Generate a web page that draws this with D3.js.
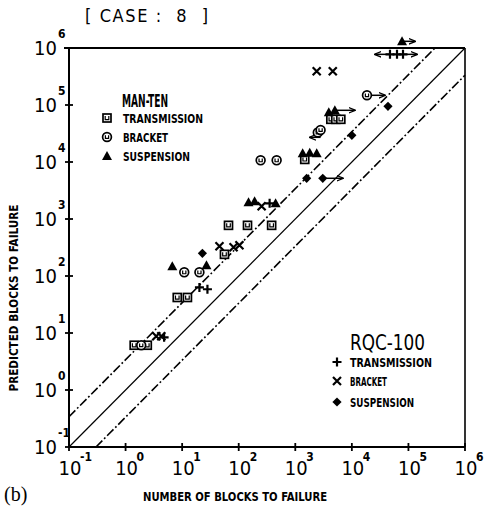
<!DOCTYPE html>
<html><head><meta charset="utf-8">
<script src="https://cdn.jsdelivr.net/npm/d3@7"></script>
<style>
html,body{margin:0;padding:0;background:#fff;}
svg{display:block;}
text{font-family:"Liberation Sans Narrow","DejaVu Sans Condensed","Arial Narrow",sans-serif;fill:#000;}
</style></head><body>
<svg id="c" width="492" height="515"></svg>
<script>
// ---- data ----
const tickValues = [0.1, 1, 10, 100, 1000, 10000, 100000, 1000000];
const tickExponents = ["-1", "0", "1", "2", "3", "4", "5", "6"];
const domain = [0.1, 1000000];
const bandFactors = [1, 3.4, 1 / 3];           // y = k * x  (solid, upper, lower)
const seriesNames = ["TRANSMISSION", "BRACKET", "SUSPENSION"];
const groupNames = ["MAN-TEN", "RQC-100"];
const caseLabel = "[ CASE :  8  ]";
const xTitle = "NUMBER OF BLOCKS TO FAILURE";
const yTitle = "PREDICTED BLOCKS TO FAILURE";

// [number of blocks, predicted blocks]
const mtTransmission = [[1.42,6.1],[2.42,6.1],[8.2,42],[12.4,42],[56,240],[66,774],[143,774],[382,774],[1470,11100],[4250,56100],[5200,56100],[6380,56100]];
const mtBracket = [[1.89,6.1],[10.9,116],[20.2,116],[244,10700],[468,10700],[2500,33000],[2800,36500],[18500,148000]];
const mtSuspension = [[6.7,148],[26.9,154],[149,1960],[191,2040],[449,1880],[1350,14200],[1800,14600],[2390,14200],[3910,74500],[5000,80700],[77100,1310000]];
const rqcTransmission = [[4.8,8.4],[20.2,63],[28,58.5],[352,1880],[47200,774000],[62800,774000],[80200,774000]];
const rqcBracket = [[3.49,8.75],[4.28,8.75],[45.7,332],[81,319],[103,346],[254,1670],[2390,390000],[4600,390000]];
const rqcSuspension = [[22.8,250],[1590,5180],[3060,5180],[10000,29400],[43500,94900]];
// run-out arrows: [from x, to x, y]
const arrows = [[18500,38500,148000],[2800,1800,27100],[5000,11300,80700],[77100,131000,1310000],[3060,6920,5180],[47200,25600,774000],[80200,142000,774000]];

// ---- drawing ----
const svg = d3.select("#c");
const x = d3.scaleLog().domain(domain).range([69, 465]);
const y = d3.scaleLog().domain(domain).range([447, 48]);

svg.append("defs").append("marker").attr("id","ah").attr("viewBox","0 0 10 10")
  .attr("refX",9).attr("refY",5).attr("markerWidth",7).attr("markerHeight",7)
  .attr("orient","auto-start-reverse").attr("markerUnits","userSpaceOnUse")
  .append("path").attr("d","M0,1L10,5L0,9").attr("fill","none").attr("stroke","#000").attr("stroke-width",1.8);

// frame
const fr = svg.append("g").attr("stroke","#000").attr("fill","none");
fr.append("line").attr("x1",x(domain[0])).attr("x2",x(domain[0])).attr("y1",y(domain[1])).attr("y2",y(domain[0])).attr("stroke-width",2);
fr.append("line").attr("x1",x(domain[0])).attr("x2",x(domain[1])).attr("y1",y(domain[0])).attr("y2",y(domain[0])).attr("stroke-width",2);
fr.append("line").attr("x1",x(domain[0])-5).attr("x2",x(domain[1])).attr("y1",y(domain[1])).attr("y2",y(domain[1])).attr("stroke-width",1.8);
fr.append("line").attr("x1",x(domain[1])).attr("x2",x(domain[1])).attr("y1",y(domain[1])).attr("y2",y(domain[0])).attr("stroke-width",1.6);

// ticks
fr.selectAll(".yt").data(tickValues).join("line").attr("x1",x(domain[0])-4).attr("x2",x(domain[0])+4)
  .attr("y1",d=>y(d)).attr("y2",d=>y(d)).attr("stroke-width",1.8);
fr.selectAll(".xt").data(tickValues).join("line").attr("y1",y(domain[0])-4).attr("y2",y(domain[0])+4)
  .attr("x1",d=>x(d)).attr("x2",d=>x(d)).attr("stroke-width",1.8);

// tick labels
const tl = svg.append("g");
tickValues.forEach((v,i)=>{
  tl.append("text").attr("x",x(domain[0])-12).attr("y",y(v)+6.5).attr("text-anchor","end")
    .attr("font-size",20).text("10");
  tl.append("text").attr("x",x(domain[0])-11).attr("y",y(v)-10).attr("text-anchor","start")
    .attr("font-size",12).attr("font-weight","bold").text(tickExponents[i]);
  tl.append("text").attr("x",x(v)+1).attr("y",475).attr("text-anchor","middle")
    .attr("font-size",20).text("10");
  tl.append("text").attr("x",x(v)+11).attr("y",461).attr("text-anchor","start")
    .attr("font-size",12).attr("font-weight","bold").text(tickExponents[i]);
});

// diagonal band lines
bandFactors.forEach((k,i)=>{
  const x0 = k >= 1 ? domain[0] : domain[0]/k;
  const x1 = k >= 1 ? domain[1]/k : domain[1];
  svg.append("line").attr("x1",x(x0)).attr("y1",y(x0*k)).attr("x2",x(x1)).attr("y2",y(x1*k))
    .attr("stroke","#000").attr("stroke-width", i===0 ? 1.2 : 1.6)
    .attr("stroke-dasharray", i===0 ? null : "9,2.5,1.8,2.5");
});

// arrows
svg.append("g").selectAll("line").data(arrows).join("line")
  .attr("x1",d=>x(d[0])).attr("x2",d=>x(d[1])).attr("y1",d=>y(d[2])).attr("y2",d=>y(d[2]))
  .attr("stroke","#000").attr("stroke-width",1.5).attr("marker-end","url(#ah)");

// markers
function marker(sel, type){
  if(type==="square"){
    sel.append("rect").attr("x",-4).attr("y",-4).attr("width",8).attr("height",8)
      .attr("fill","#fff").attr("stroke","#000").attr("stroke-width",1.7);
    sel.append("path").attr("d","M-1.8,-2V1.6H1.8V-2").attr("fill","none").attr("stroke","#000").attr("stroke-width",1.2);
  } else if(type==="circle"){
    sel.append("circle").attr("r",4.4).attr("fill","#fff").attr("stroke","#000").attr("stroke-width",1.7);
    sel.append("path").attr("d","M-1.6,-1.8V1.4H1.6V-1.8").attr("fill","none").attr("stroke","#000").attr("stroke-width",1.2);
  } else if(type==="triangle"){
    sel.append("path").attr("d","M0,-5L5,4H-5Z").attr("fill","#000");
  } else if(type==="plus"){
    sel.append("path").attr("d","M-4.5,0H4.5M0,-4.5V4.5").attr("stroke","#000").attr("stroke-width",2.2);
  } else if(type==="cross"){
    sel.append("path").attr("d","M-4,-4L4,4M-4,4L4,-4").attr("stroke","#000").attr("stroke-width",2.2);
  } else if(type==="diamond"){
    sel.append("path").attr("d","M0,-4.6L4.6,0L0,4.6L-4.6,0Z").attr("fill","#000");
  }
}
const series = [
  [mtTransmission,"square"],[mtBracket,"circle"],[mtSuspension,"triangle"],
  [rqcTransmission,"plus"],[rqcBracket,"cross"],[rqcSuspension,"diamond"]
];
series.forEach(([data,type])=>{
  svg.append("g").selectAll("g").data(data).join("g")
    .attr("transform",d=>`translate(${x(d[0])},${y(d[1])})`)
    .each(function(){ marker(d3.select(this), type); });
});

// legends
svg.append("text").attr("x",122).attr("y",107).attr("font-size",18).attr("font-weight","bold")
  .attr("textLength",46).attr("lengthAdjust","spacingAndGlyphs").text(groupNames[0]);
const mtTypes = ["square","circle","triangle"];
const mtLens = [80,45,67];
seriesNames.forEach((s,i)=>{
  const yy = 118 + i*19;
  marker(svg.append("g").attr("transform",`translate(107,${yy})`), mtTypes[i]);
  svg.append("text").attr("x",123).attr("y",yy+4.5).attr("font-size",12).attr("font-weight","bold")
    .attr("textLength",mtLens[i]).attr("lengthAdjust","spacingAndGlyphs").text(s);
});
svg.append("text").attr("x",350).attr("y",350).attr("font-size",21)
  .attr("textLength",75).attr("lengthAdjust","spacingAndGlyphs").text(groupNames[1]);
const rqTypes = ["plus","cross","diamond"];
const rqLens = [82,37,64];
const rqY = [362,381,402];
seriesNames.forEach((s,i)=>{
  marker(svg.append("g").attr("transform",`translate(337,${rqY[i]})`), rqTypes[i]);
  svg.append("text").attr("x",350).attr("y",rqY[i]+4.5).attr("font-size",12).attr("font-weight","bold")
    .attr("textLength",rqLens[i]).attr("lengthAdjust","spacingAndGlyphs").text(s);
});

// titles
svg.append("text").attr("x",85).attr("y",22).attr("font-size",18)
  .attr("textLength",123).attr("lengthAdjust","spacing").style("white-space","pre").text(caseLabel);
svg.append("text").attr("x",235).attr("y",501).attr("text-anchor","middle").attr("font-size",12).attr("font-weight","bold")
  .attr("textLength",184).attr("lengthAdjust","spacingAndGlyphs").text(xTitle);
svg.append("text").attr("transform","translate(18,298) rotate(-90)").attr("text-anchor","middle")
  .attr("font-size",12).attr("font-weight","bold")
  .attr("textLength",187).attr("lengthAdjust","spacingAndGlyphs").text(yTitle);
svg.append("text").attr("x",4).attr("y",501).attr("font-size",20)
  .style("font-family","'Liberation Serif','DejaVu Serif',serif").text("(b)");
</script>
</body></html>
